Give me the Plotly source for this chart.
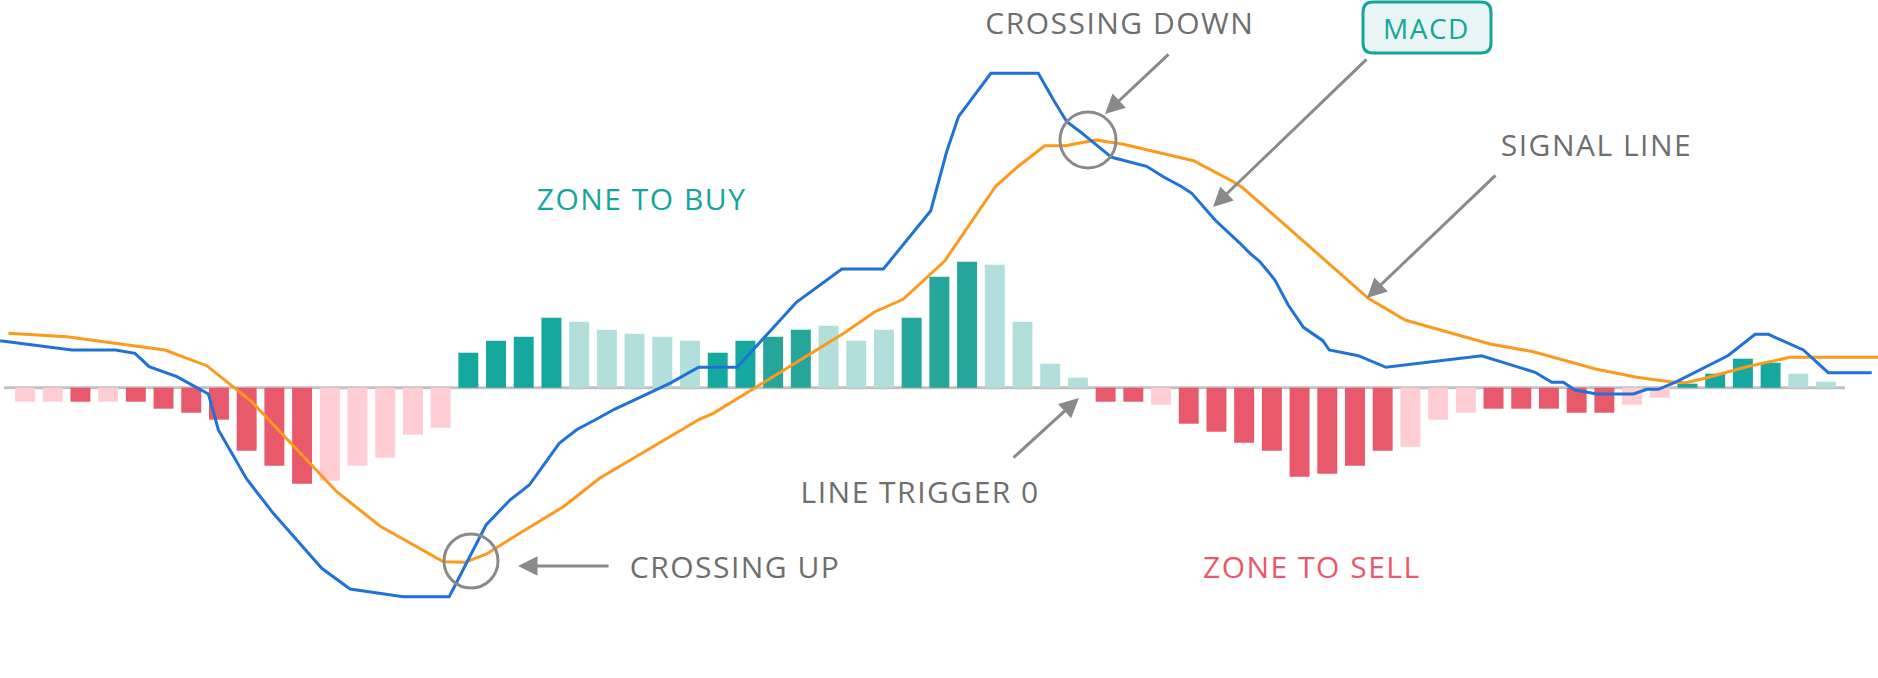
import plotly.graph_objects as go

# ---------------- data ----------------
# MACD histogram, one bar per period (index 0..65)
hist = [-0.14, -0.14, -0.14, -0.14, -0.14, -0.21, -0.25, -0.32, -0.63, -0.78, -0.96,
        -0.93, -0.78, -0.70, -0.47, -0.40,
        0.35, 0.47, 0.51, 0.70, 0.66, 0.58, 0.54, 0.51, 0.47, 0.35, 0.47, 0.51, 0.58,
        0.62, 0.47, 0.58, 0.70, 1.11, 1.26, 1.23, 0.66, 0.24, 0.10,
        -0.14, -0.14, -0.17, -0.36, -0.44, -0.55, -0.63, -0.89, -0.86, -0.78, -0.63,
        -0.59, -0.32, -0.25, -0.21, -0.21, -0.21, -0.25, -0.25, -0.17, -0.10,
        0.04, 0.14, 0.29, 0.25, 0.14, 0.06]
# tone of each bar: R=strong negative, P=weak negative, T=strong positive,
# D=strong positive (dark), L=weak positive
tones = list("PPRPRRRRRRRPPPPP" + "TTTTLLLLLTTDDLLLDDDLLLL" + "RRPRRRRRRRRPPPRRRRRPP" + "TTTTLL")

# MACD line vertices (period, value)
macd_t = [-0.90, 1.69, 3.27, 3.97, 4.48, 5.48, 6.62, 6.98, 8.00, 8.96, 9.81, 10.71, 11.73,
          13.65, 15.31, 16.64, 17.50, 18.20, 19.28, 19.92, 20.57, 21.27, 23.27, 24.31,
          25.70, 27.84, 29.48, 30.98, 32.69, 33.26, 33.69, 34.86, 36.57, 37.12, 37.60,
          38.08, 39.22, 40.48, 41.08, 41.75, 42.11, 42.95, 43.85, 44.21, 44.57, 45.11,
          45.59, 46.14, 46.84, 47.07, 48.12, 49.12, 52.57, 54.50, 55.10, 55.52, 55.94,
          56.72, 58.05, 58.54, 58.95, 59.61, 61.47, 62.44, 62.92, 64.18, 65.08, 66.65]
macd_v = [0.47, 0.377, 0.377, 0.344, 0.21, 0.11, -0.063, -0.423, -0.913, -1.256, -1.523,
          -1.806, -2.013, -2.09, -2.09, -1.373, -1.123, -0.973, -0.556, -0.418, -0.323,
          -0.216, 0.044, 0.204, 0.204, 0.854, 1.187, 1.187, 1.77, 2.357, 2.71, 3.144,
          3.144, 2.877, 2.66, 2.56, 2.304, 2.214, 2.11, 2.01, 1.944, 1.677, 1.444, 1.344,
          1.26, 1.077, 0.827, 0.604, 0.47, 0.377, 0.32, 0.204, 0.32, 0.154, 0.054, 0.054,
          -0.023, -0.063, -0.063, -0.016, -0.016, 0.06, 0.322, 0.534, 0.534, 0.377, 0.15,
          0.15]

# Signal line vertices (period, value)
signal_t = [-0.60, 1.51, 5.05, 6.56, 8.18, 11.25, 12.81, 14.38, 15.10, 15.88, 16.66, 17.75,
            19.43, 20.75, 24.34, 24.84, 29.55, 30.66, 31.69, 33.19, 35.04, 35.83, 36.80,
            37.54, 38.65, 39.64, 42.17, 43.61, 43.97, 48.48, 49.81, 52.87, 54.44, 56.72,
            58.17, 59.37, 59.95, 60.67, 62.14, 63.70, 66.88]
signal_v = [0.544, 0.51, 0.377, 0.22, -0.14, -1.04, -1.383, -1.623, -1.74, -1.746, -1.663,
            -1.473, -1.19, -0.903, -0.316, -0.256, 0.544, 0.757, 0.884, 1.267, 2.017, 2.21,
            2.42, 2.42, 2.477, 2.434, 2.27, 2.06, 1.994, 0.894, 0.677, 0.437, 0.36, 0.184,
            0.104, 0.06, 0.05, 0.097, 0.21, 0.304, 0.304]

labels = {
    "buy": "ZONE TO BUY",
    "sell": "ZONE TO SELL",
    "down": "CROSSING DOWN",
    "up": "CROSSING UP",
    "signal": "SIGNAL LINE",
    "trigger": "LINE TRIGGER 0",
    "macd": "MACD",
}

# ---------------- styling ----------------
W, H = 1878, 678
TONE_COLORS = {"R": "#e8596b", "P": "#ffcdd3", "T": "#14a89e", "D": "#26a69a", "L": "#b2dfdb"}
BLUE = "#1f72d6"
ORANGE = "#fb9a1b"
GRAY = "#8a8a8a"
TEXT_GRAY = "#6e6e6e"
TEAL = "#14a69a"
RED = "#e8596b"
FONT = "Open Sans"


def px(x):
    return x / W


def py(y):
    return 1 - y / H


fig = go.Figure()
fig.add_trace(go.Bar(
    x=list(range(len(hist))), y=hist,
    marker=dict(color=[TONE_COLORS[t] for t in tones], line=dict(width=0)),
    width=0.72, hoverinfo="skip", showlegend=False,
))
fig.add_trace(go.Scatter(x=signal_t, y=signal_v, mode="lines",
                         line=dict(color=ORANGE, width=3), showlegend=False))
fig.add_trace(go.Scatter(x=macd_t, y=macd_v, mode="lines",
                         line=dict(color=BLUE, width=3), showlegend=False))

shapes = []
# zero line
shapes.append(dict(type="line", xref="paper", yref="y", x0=px(4), x1=px(1845), y0=0, y1=0,
                   line=dict(color="#c2c2c2", width=3), layer="below"))
# crossing circles
for cx, cy, r in [(471, 561, 27), (1088, 140, 28)]:
    shapes.append(dict(type="circle", xref="paper", yref="paper",
                       x0=px(cx - r), x1=px(cx + r), y0=py(cy + r), y1=py(cy - r),
                       line=dict(color=GRAY, width=3)))
# MACD rounded box
bx0, bx1, by0, by1, rr = 1363, 1491, 2, 53, 10
path = (f"M {px(bx0 + rr)},{py(by0)} L {px(bx1 - rr)},{py(by0)} "
        f"Q {px(bx1)},{py(by0)} {px(bx1)},{py(by0 + rr)} L {px(bx1)},{py(by1 - rr)} "
        f"Q {px(bx1)},{py(by1)} {px(bx1 - rr)},{py(by1)} L {px(bx0 + rr)},{py(by1)} "
        f"Q {px(bx0)},{py(by1)} {px(bx0)},{py(by1 - rr)} L {px(bx0)},{py(by0 + rr)} "
        f"Q {px(bx0)},{py(by0)} {px(bx0 + rr)},{py(by0)} Z")
shapes.append(dict(type="path", xref="paper", yref="paper", path=path,
                   fillcolor="#e8f5f4", line=dict(color=TEAL, width=3)))

annotations = []


def text(key, x, y, color, size=30):
    annotations.append(dict(text=labels[key], xref="paper", yref="paper", x=px(x), y=py(y),
                            xanchor="center", yanchor="middle", showarrow=False,
                            font=dict(family=FONT, size=size, color=color)))


text("down", 1120, 22, TEXT_GRAY)
text("signal", 1596, 145, TEXT_GRAY)
text("trigger", 920, 491, TEXT_GRAY)
text("up", 735, 566, TEXT_GRAY)
text("sell", 1312, 566, RED)
text("buy", 641, 198, TEAL)
text("macd", 1426, 28, TEAL, size=28)


def arrow(hx, hy, tx, ty):
    annotations.append(dict(text="", xref="paper", yref="paper", x=px(hx), y=py(hy),
                            ax=tx - hx, ay=ty - hy, axref="pixel", ayref="pixel",
                            showarrow=True, arrowhead=2, arrowsize=1.3, arrowwidth=3,
                            arrowcolor=GRAY))


arrow(1105, 114, 1170, 53)
arrow(1213, 207, 1368, 58)
arrow(1367, 298, 1497, 174)
arrow(1079, 398, 1012, 459)
arrow(518, 566, 610, 566)

fig.update_layout(
    width=W, height=H, margin=dict(l=0, r=0, t=0, b=0),
    paper_bgcolor="white", plot_bgcolor="white",
    xaxis=dict(range=[-0.9023, 66.876], visible=False, fixedrange=True),
    yaxis=dict(range=[-2.903, 3.877], visible=False, fixedrange=True),
    bargap=0.28, shapes=shapes, annotations=annotations, showlegend=False,
)

# remove the page's default body margin and give the labels their light tracking
post = ("document.body.style.margin='0';"
        "document.body.style.overflow='hidden';"
        "document.querySelectorAll('#{plot_id} .annotation-text').forEach("
        "function(t){t.style.letterSpacing='1.5px';});")

fig.write_html("out.html", config={"displayModeBar": False}, post_script=post)
